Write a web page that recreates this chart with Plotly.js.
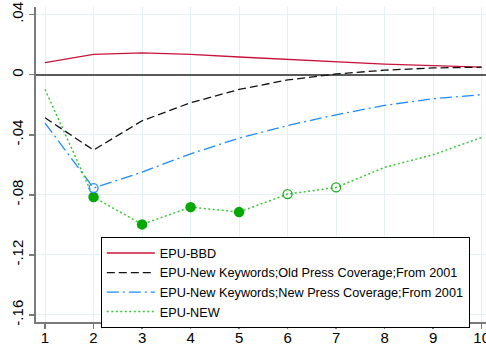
<!DOCTYPE html>
<html>
<head>
<meta charset="utf-8">
<script src="https://cdn.plot.ly/plotly-3.0.1.min.js"></script>
<style>html,body{margin:0;padding:0;background:#fff;}#chart{width:486px;height:349px;}</style>
</head>
<body>
<div id="chart"></div>
<script>
const horizons = [1, 2, 3, 4, 5, 6, 7, 8, 9, 10];
const epuBBD = [0.008, 0.0136, 0.0145, 0.0136, 0.0118, 0.0102, 0.0087, 0.0071, 0.006, 0.0051];
const epuOldPress = [-0.0287, -0.0502, -0.0307, -0.0187, -0.0098, -0.0035, 0.0005, 0.003, 0.0045, 0.005];
const epuNewPress = [-0.0322, -0.0755, -0.0649, -0.0527, -0.0422, -0.0338, -0.0267, -0.0204, -0.016, -0.0133];
const epuNew = [-0.0098, -0.0815, -0.0997, -0.0882, -0.0915, -0.0795, -0.0751, -0.0617, -0.0533, -0.0418];
const seriesNames = ["EPU-BBD", "EPU-New Keywords;Old Press Coverage;From 2001", "EPU-New Keywords;New Press Coverage;From 2001", "EPU-NEW"];
// significance markers (horizons)
const newFilledH = [2, 3, 4, 5];
const newHollowH = [6, 7];
const newPressHollowH = [2];
const yTickVals = [0.04, 0, -0.04, -0.08, -0.12, -0.16];
const yTickText = [".04", "0", "-.04", "-.08", "-.12", "-.16"];

const pick = (arr, hs) => hs.map(h => arr[horizons.indexOf(h)]);

const traces = [
  {x: horizons, y: epuBBD, name: seriesNames[0], mode: "lines", line: {color: "#c8143c", width: 1.3}},
  {x: horizons, y: epuOldPress, name: seriesNames[1], mode: "lines", line: {color: "#111111", width: 1.3, dash: "8px,4px"}},
  {x: horizons, y: epuNewPress, name: seriesNames[2], mode: "lines", line: {color: "#1e8cff", width: 1.3, dash: "12px,4px,2px,4px"}},
  {x: horizons, y: epuNew, name: seriesNames[3], mode: "lines", line: {color: "#3cc43c", width: 1.5, dash: "2px,2.5px"}},
  {x: newFilledH, y: pick(epuNew, newFilledH), mode: "markers", showlegend: false, hoverinfo: "skip",
   marker: {symbol: "circle", size: 10.5, color: "#06a806", line: {width: 0}}},
  {x: newHollowH, y: pick(epuNew, newHollowH), mode: "markers", showlegend: false, hoverinfo: "skip",
   marker: {symbol: "circle-open", size: 9, color: "#1fae1f", line: {width: 1.3}}},
  {x: newPressHollowH, y: pick(epuNewPress, newPressHollowH), mode: "markers", showlegend: false, hoverinfo: "skip",
   marker: {symbol: "circle-open", size: 9, color: "#1e8cff", line: {width: 1.3}}}
];

const layout = {
  width: 486, height: 349,
  margin: {l: 36, r: 0, t: 7, b: 27, pad: 0},
  paper_bgcolor: "#ffffff", plot_bgcolor: "#ffffff",
  font: {family: "Liberation Sans, Arial, sans-serif", size: 15, color: "#000"},
  showlegend: true,
  xaxis: {
    range: [0.814, 10.09], tickvals: horizons, ticktext: horizons.map(String),
    showgrid: true, gridcolor: "#e6eff1", gridwidth: 1,
    showline: true, linecolor: "#7a7a7a", linewidth: 2,
    ticks: "outside", ticklen: 5, tickcolor: "#7a7a7a", tickwidth: 1.5,
    zeroline: false, tickfont: {size: 15}, ticklabeloverflow: "allow", ticklabelstandoff: -4
  },
  yaxis: {
    range: [-0.1647, 0.0451], tickvals: yTickVals, ticktext: yTickText, tickangle: -90,
    showgrid: true, gridcolor: "#e6eff1", gridwidth: 1,
    showline: true, linecolor: "#7a7a7a", linewidth: 2,
    ticks: "outside", ticklen: 5, tickcolor: "#7a7a7a", tickwidth: 1.5,
    zeroline: true, zerolinecolor: "#5a5a5a", zerolinewidth: 2, tickfont: {size: 15}
  },
  legend: {
    x: 0.144, y: 0.269, xanchor: "left", yanchor: "top",
    bgcolor: "#ffffff", bordercolor: "#000000", borderwidth: 1,
    font: {size: 12.7}, itemwidth: 48, tracegroupgap: 0
  }
};

Plotly.newPlot("chart", traces, layout, {displayModeBar: false, staticPlot: true});
</script>
</body>
</html>
